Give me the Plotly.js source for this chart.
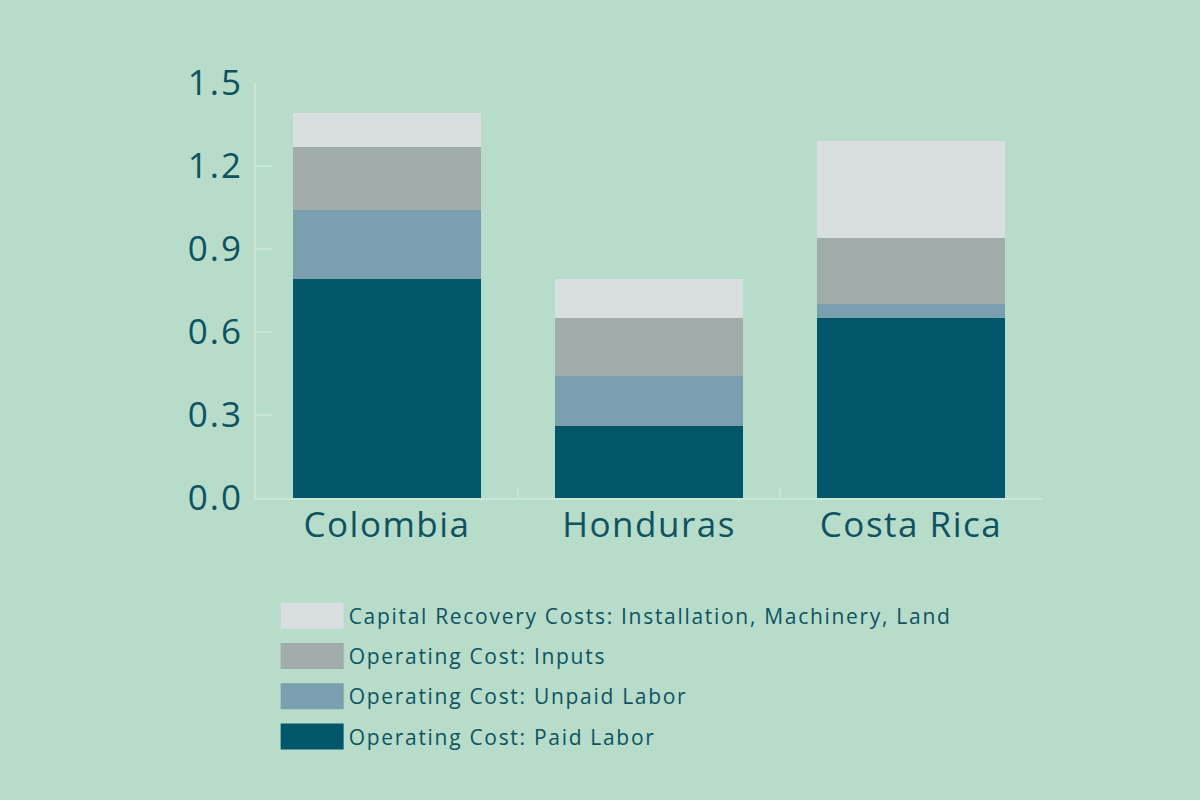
<!DOCTYPE html>
<html>
<head>
<meta charset="utf-8">
<script src="https://cdn.plot.ly/plotly-3.0.1.min.js"></script>
<style>
  html, body { margin: 0; padding: 0; background: #b7dcca; }
  #chart { width: 1200px; height: 800px; }
  .xtick text { letter-spacing: 1.5px; }
  .ytick text { letter-spacing: 2px; }
  .legend text { letter-spacing: 1.7px; }
  .legend .scrollbox { clip-path: none !important; }
</style>
</head>
<body>
<div id="chart"></div>
<script>
var countries = ["Colombia", "Honduras", "Costa Rica"];
var paidLabor = [0.79, 0.26, 0.65];
var unpaidLabor = [0.25, 0.18, 0.05];
var inputs = [0.23, 0.21, 0.24];
var capital = [0.12, 0.14, 0.35];
var seriesNames = [
  "Operating Cost: Paid Labor",
  "Operating Cost: Unpaid Labor",
  "Operating Cost: Inputs",
  "Capital Recovery Costs: Installation, Machinery, Land"
];
var seriesColors = ["#02566a", "#7a9fae", "#a2acaa", "#d9dfe0"];
var yTicks = [0, 0.3, 0.6, 0.9, 1.2, 1.5];
var yTickText = ["0.0", "0.3", "0.6", "0.9", "1.2", "1.5"];

var seriesValues = [paidLabor, unpaidLabor, inputs, capital];
var textColor = "#0d5361";
var axisColor = "#cbe6d8";
var fontFamily = "'Open Sans', Lato, sans-serif";

var traces = seriesValues.map(function (vals, i) {
  return {
    type: "bar",
    x: countries,
    y: vals,
    name: seriesNames[i],
    legendgroup: "g" + i,
    legendrank: seriesValues.length - i,
    marker: { color: seriesColors[i], line: { width: 0 } },
    hoverinfo: "skip"
  };
});

var layout = {
  width: 1200,
  height: 800,
  paper_bgcolor: "#b7dcca",
  plot_bgcolor: "#b7dcca",
  barmode: "stack",
  bargap: 0.28,
  margin: { l: 256, r: 158, t: 83, b: 302 },
  font: { family: fontFamily, color: textColor },
  showlegend: true,
  legend: {
    x: 0.025,
    xanchor: "left",
    y: -0.235,
    yanchor: "top",
    bgcolor: "rgba(0,0,0,0)",
    traceorder: "grouped",
    tracegroupgap: 10,
    itemwidth: 63,
    font: { size: 21, color: textColor, family: fontFamily }
  },
  xaxis: {
    type: "category",
    range: [-0.5, 2.5],
    showline: true,
    linecolor: axisColor,
    linewidth: 2,
    ticks: "inside",
    tickson: "boundaries",
    ticklen: 10,
    tickcolor: axisColor,
    tickwidth: 2,
    showgrid: false,
    zeroline: false,
    ticklabelstandoff: -5,
    tickfont: { size: 35, color: textColor }
  },
  yaxis: {
    range: [0, 1.5],
    tickvals: yTicks,
    ticktext: yTickText,
    showline: true,
    linecolor: axisColor,
    linewidth: 2,
    ticks: "inside",
    ticklen: 16,
    tickcolor: axisColor,
    tickwidth: 2,
    showgrid: false,
    zeroline: false,
    ticklabelstandoff: 4,
    tickfont: { size: 35, color: textColor }
  }
};

Plotly.newPlot("chart", traces, layout, { displayModeBar: false, staticPlot: true }).then(function (gd) {
  // enlarge legend swatches to match the reference's wide boxes
  var pts = gd.querySelectorAll(".legend .legendpoints path");
  pts.forEach(function (p) {
    p.setAttribute("d", "M31.5,13H-31.5V-13H31.5Z");
  });
});
</script>
</body>
</html>
